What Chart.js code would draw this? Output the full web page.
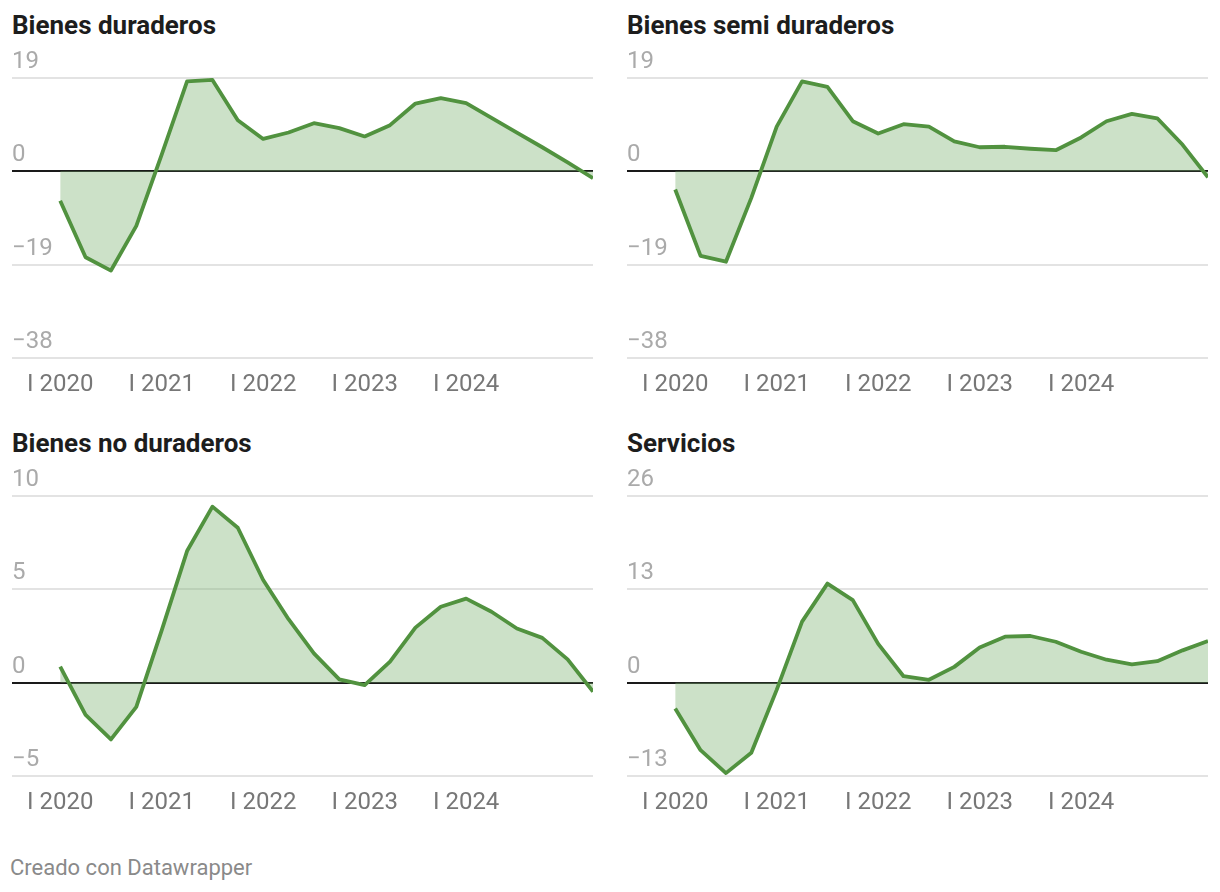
<!DOCTYPE html>
<html>
<head>
<meta charset="utf-8">
<script src="https://cdn.jsdelivr.net/npm/chart.js@4"></script>
<style>
  body { margin: 0; background: #fff; font-family: Roboto, sans-serif; }
  .wrap { position: relative; width: 1220px; height: 892px; }
  .title { position: absolute; font-weight: bold; font-size: 26px; line-height: 30px; color: #1d1d1d; }
  .panel { position: absolute; width: 605px; height: 372px; }
  .footer { position: absolute; left: 10px; top: 854px; font-size: 22px; line-height: 28px; color: #8a8a8a; }
</style>
</head>
<body>
<div class="wrap" id="wrap">
  <div class="footer">Creado con Datawrapper</div>
</div>
<script>
const quarters = [
  "I 2020", "II 2020", "III 2020", "IV 2020",
  "I 2021", "II 2021", "III 2021", "IV 2021",
  "I 2022", "II 2022", "III 2022", "IV 2022",
  "I 2023", "II 2023", "III 2023", "IV 2023",
  "I 2024", "II 2024", "III 2024", "IV 2024",
  "I 2025", "II 2025"
];
const tickLabels = ["I 2020", "I 2021", "I 2022", "I 2023", "I 2024"];

const titles = ["Bienes duraderos", "Bienes semi duraderos", "Bienes no duraderos", "Servicios"];

const duraderos = [-6.0, -17.5, -20.2, -11.1, 3.4, 18.3, 18.6, 10.4, 6.6, 7.9, 9.8, 8.8, 7.1, 9.4, 13.8, 14.9, 13.9, 10.9, 7.9, 4.9, 1.8, -1.4];
const semiDuraderos = [-3.7, -17.2, -18.4, -5.4, 9.1, 18.3, 17.2, 10.2, 7.7, 9.6, 9.1, 6.1, 4.9, 5.0, 4.6, 4.3, 6.9, 10.2, 11.7, 10.8, 5.4, -1.2];
const noDuraderos = [0.86, -1.73, -3.04, -1.3, 2.8, 7.05, 9.43, 8.3, 5.5, 3.4, 1.57, 0.18, -0.13, 1.13, 2.95, 4.07, 4.5, 3.8, 2.9, 2.4, 1.25, -0.48];
const servicios = [-3.6, -9.4, -12.6, -9.75, -1.0, 8.5, 13.8, 11.5, 5.4, 0.9, 0.4, 2.2, 4.9, 6.4, 6.5, 5.7, 4.3, 3.2, 2.55, 3.0, 4.5, 5.8];

const yTicks = [
  [-38, -19, 0, 19],
  [-38, -19, 0, 19],
  [-5, 0, 5, 10],
  [-13, 0, 13, 26]
];

const series = [duraderos, semiDuraderos, noDuraderos, servicios];

const fmt = (v) => (v < 0 ? "\u2212" + Math.abs(v) : String(v));

const wrap = document.getElementById("wrap");

series.forEach((values, i) => {
  const x0 = (i % 2) * 615;
  const y0 = Math.floor(i / 2) * 418;

  const t = document.createElement("div");
  t.className = "title";
  t.style.left = (x0 + 12) + "px";
  t.style.top = (y0 + 10) + "px";
  t.textContent = titles[i];
  wrap.appendChild(t);

  const box = document.createElement("div");
  box.className = "panel";
  box.style.left = x0 + "px";
  box.style.top = (y0 + 40) + "px";
  const canvas = document.createElement("canvas");
  box.appendChild(canvas);
  wrap.appendChild(box);

  const ticks = yTicks[i];

  new Chart(canvas, {
    type: "line",
    data: {
      datasets: [
        {
          data: values.map((v, k) => ({ x: k, y: v })),
          borderColor: "#51923f",
          backgroundColor: "rgba(128, 180, 118, 0.4)",
          borderWidth: 3.8,
          borderJoinStyle: "round",
          pointRadius: 0,
          tension: 0,
          fill: "origin",
        },
      ],
    },
    options: {
      responsive: true,
      maintainAspectRatio: false,
      animation: false,
      layout: { padding: { top: 38, left: 12, right: 12, bottom: 0 } },
      plugins: {
        legend: { display: false },
        tooltip: { enabled: false },
      },
      scales: {
        x: {
          type: "linear",
          min: -1.9,
          max: quarters.length - 1,
          grid: { display: false, drawTicks: false },
          border: { display: false },
          afterBuildTicks: (scale) => {
            scale.ticks = tickLabels.map((l) => ({ value: quarters.indexOf(l) }));
          },
          afterFit: (scale) => {
            scale.height = 54;
          },
          ticks: {
            padding: 13,
            maxRotation: 0,
            autoSkip: false,
            color: "#777",
            font: { family: "Roboto", size: 24 },
            callback: (v) => quarters[v],
          },
        },
        y: {
          min: ticks[0],
          max: ticks[ticks.length - 1],
          afterBuildTicks: (scale) => {
            scale.ticks = ticks.map((v) => ({ value: v }));
          },
          afterFit: (scale) => {
            scale.width = 0;
          },
          grid: {
            drawTicks: false,
            color: (ctx) => (ctx.tick && ctx.tick.value === 0 ? "#1a1a1a" : "#e3e3e3"),
            lineWidth: 2,
          },
          border: { display: false },
          ticks: {
            mirror: true,
            padding: 0,
            labelOffset: -16,
            color: "#aaa",
            font: { family: "Roboto", size: 24 },
            callback: (v) => fmt(v),
          },
        },
      },
    },
  });
});
</script>
</body>
</html>
